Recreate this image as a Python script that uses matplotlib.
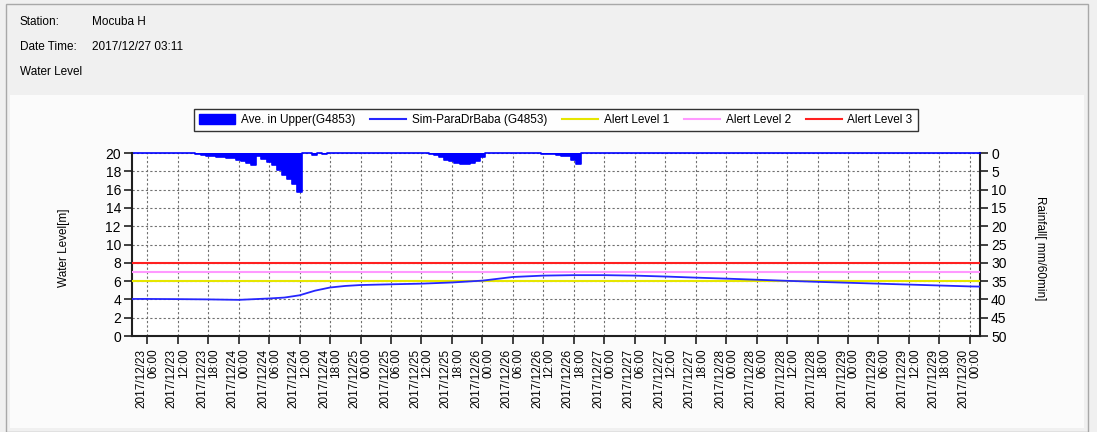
import matplotlib
matplotlib.use("Agg")
import matplotlib.pyplot as plt
from matplotlib.patches import Rectangle, Patch
from matplotlib.lines import Line2D
import pandas as pd

plt.rcParams['font.family'] = ['Liberation Sans', 'DejaVu Sans']

# ---------------- data ----------------
station = "Mocuba H"
date_time = "2017/12/27 03:11"
chart_title = "Water Level"

x_start = "2017-12-23 03:00"
x_end = "2017-12-30 02:00"

# simulated water level [m]
level_times = ["2017-12-23 03:00", "2017-12-23 06:00", "2017-12-23 12:00", "2017-12-23 18:00",
               "2017-12-24 00:00", "2017-12-24 06:00", "2017-12-24 09:00", "2017-12-24 12:00",
               "2017-12-24 15:00", "2017-12-24 18:00", "2017-12-24 21:00", "2017-12-25 00:00",
               "2017-12-25 06:00", "2017-12-25 12:00", "2017-12-25 18:00", "2017-12-26 00:00",
               "2017-12-26 06:00", "2017-12-26 12:00", "2017-12-26 18:00", "2017-12-27 00:00",
               "2017-12-27 06:00", "2017-12-27 12:00", "2017-12-27 18:00", "2017-12-28 00:00",
               "2017-12-28 06:00", "2017-12-28 12:00", "2017-12-28 18:00", "2017-12-29 00:00",
               "2017-12-29 06:00", "2017-12-29 12:00", "2017-12-29 18:00", "2017-12-30 00:00",
               "2017-12-30 02:00"]
level_m = [4.05, 4.05, 4.03, 4.00,
           3.95, 4.10, 4.20, 4.45,
           4.95, 5.30, 5.47, 5.57,
           5.65, 5.72, 5.85, 6.05,
           6.45, 6.60, 6.65, 6.65,
           6.60, 6.50, 6.38, 6.27,
           6.15, 6.03, 5.92, 5.82,
           5.72, 5.62, 5.52, 5.42,
           5.40]

# hourly rainfall [mm/60min] (non-zero hours)
rain_times = (list(pd.date_range("2017-12-23 16:00", periods=21, freq="h").strftime("%Y-%m-%d %H:%M"))
              + ["2017-12-24 15:00", "2017-12-24 17:00"]
              + list(pd.date_range("2017-12-25 14:00", periods=11, freq="h").strftime("%Y-%m-%d %H:%M"))
              + list(pd.date_range("2017-12-26 12:00", periods=8, freq="h").strftime("%Y-%m-%d %H:%M")))
rain_mm = ([0.3, 0.5, 0.7, 0.8, 1.0, 1.1, 1.3, 1.5, 1.8, 2.2, 2.8, 3.4, 0.8, 1.6, 2.4, 3.3, 4.6, 5.9, 7.2, 8.6, 10.7]
           + [0.5, 0.4]
           + [0.3, 0.6, 1.2, 1.8, 2.3, 2.7, 3.1, 3.1, 2.8, 2.2, 1.2]
           + [0.2, 0.3, 0.4, 0.5, 0.7, 0.7, 1.8, 2.9])

alert_levels = [6, 7, 8]
alert_names = ["Alert Level 1", "Alert Level 2", "Alert Level 3"]
alert_colors = ["#e6e600", "#ff99ff", "#ff2020"]

rain_name = "Ave. in Upper(G4853)"
level_name = "Sim-ParaDrBaba (G4853)"

tick_times = pd.date_range("2017-12-23 06:00", "2017-12-30 00:00", freq="6h")
tick_labels = [t.strftime("%Y/%m/%d") + "\n" + t.strftime("%H:%M") for t in tick_times]

# ---------------- figure ----------------
W, H = 1097, 432
fig = plt.figure(figsize=(W / 100, H / 100), dpi=100, facecolor="#f0f0f0")

def fx(px):
    return px / W

def fy(py):
    return 1 - py / H

# panel / frame
fig.patches.append(Rectangle((fx(6), fy(432)), fx(1082), 428 / H, transform=fig.transFigure,
                             facecolor="none", edgecolor="#a8a8a8", lw=1.0, zorder=-2))
fig.patches.append(Rectangle((fx(10), fy(428)), fx(1074), (428 - 95) / H, transform=fig.transFigure,
                             facecolor="#fbfbfb", edgecolor="none", zorder=-3))

hdr_fs = 8.5
fig.text(fx(20), fy(22), "Station:", fontsize=hdr_fs, va="center")
fig.text(fx(92), fy(22), station, fontsize=hdr_fs, va="center")
fig.text(fx(20), fy(47), "Date Time:", fontsize=hdr_fs, va="center")
fig.text(fx(92), fy(47), date_time, fontsize=hdr_fs, va="center")
fig.text(fx(20), fy(72), chart_title, fontsize=hdr_fs, va="center")

ax_l, ax_r, ax_t, ax_b = 132, 980, 153, 336
ax = fig.add_axes([fx(ax_l), fy(ax_b), (ax_r - ax_l) / W, (ax_b - ax_t) / H])
ax2 = ax.twinx()
ax.set_zorder(2)
ax2.set_zorder(1)
ax.patch.set_visible(False)
ax2.patch.set_visible(True)
ax2.patch.set_facecolor("white")

xs = pd.Timestamp(x_start)
xe = pd.Timestamp(x_end)

grid_kw = dict(color="#707070", linestyle=(0, (2, 2)), lw=0.8)

# rainfall (full hourly series incl. zeros) on the secondary axis
rain_full = pd.Series(0.0, index=pd.date_range(xs, xe, freq="h"))
rain_full.loc[pd.to_datetime(rain_times)] = rain_mm
ax2.set_ylim(50, 0)
ax2.set_yticks(range(0, 51, 5))
ax2.grid(True, axis="y", **grid_kw)
for t in tick_times:
    ax2.axvline(t, zorder=0.5, **grid_kw)
ax2.set_axisbelow(True)
ax2.fill_between(rain_full.index, 0, rain_full.values, step="mid", color="#0000ff", lw=0, zorder=3)
ax2.step(rain_full.index, rain_full.values, where="mid", color="#0000ff", lw=1.2, zorder=3,
         clip_on=False)

# water level & alerts
lt = pd.to_datetime(level_times)
for lvl, c in zip(alert_levels, alert_colors):
    ax.plot([xs, xe], [lvl, lvl], color=c, lw=1.5, zorder=3)
ax.plot(lt, level_m, color="#2626ff", lw=1.3, zorder=4)

ax.set_xlim(xs, xe)
ax2.set_xlim(xs, xe)
ax.set_ylim(0, 20)
ax.set_yticks(range(0, 21, 2))

ax.set_xticks(tick_times)
ax.set_xticklabels(tick_labels, rotation=90, ha="center", va="top", multialignment="right",
                   fontsize=8.5, linespacing=1.0)

for a in (ax, ax2):
    a.spines["top"].set_visible(False)
    for s in ("left", "right", "bottom"):
        a.spines[s].set_linewidth(1.5)
        a.spines[s].set_color("#202020")
    a.tick_params(axis="both", length=6, width=1.2, color="#202020", labelsize=10, pad=2)
ax.tick_params(axis="x", labelsize=8.5, pad=3)
ax.spines["right"].set_visible(False)
ax2.spines["left"].set_visible(False)
ax2.spines["bottom"].set_visible(False)

ax.set_ylabel("Water Level[m]", fontsize=8.5)
ax.yaxis.set_label_coords((70 - ax_l) / (ax_r - ax_l), 0.48)
ax2.set_ylabel("Rainfall[ mm/60min]", fontsize=8.5, rotation=270, va="center")
ax2.yaxis.set_label_coords((1040 - ax_l) / (ax_r - ax_l), 0.48)

handles = [Patch(facecolor="#0000ff", edgecolor="#0000ff"),
           Line2D([], [], color="#2626ff", lw=1.5)] + \
          [Line2D([], [], color=c, lw=1.5) for c in alert_colors]
labels = [rain_name, level_name] + alert_names
leg = fig.legend(handles, labels, loc="center", bbox_to_anchor=(fx(556), fy(120)), ncol=5,
                 fontsize=8.5, frameon=True, fancybox=False, edgecolor="black",
                 handlelength=3.0, handleheight=1.0, columnspacing=1.3, handletextpad=0.5,
                 borderpad=0.45)
leg.get_frame().set_linewidth(1.0)
leg.get_frame().set_facecolor("white")

fig.savefig("out.png", dpi=100, facecolor=fig.get_facecolor())
